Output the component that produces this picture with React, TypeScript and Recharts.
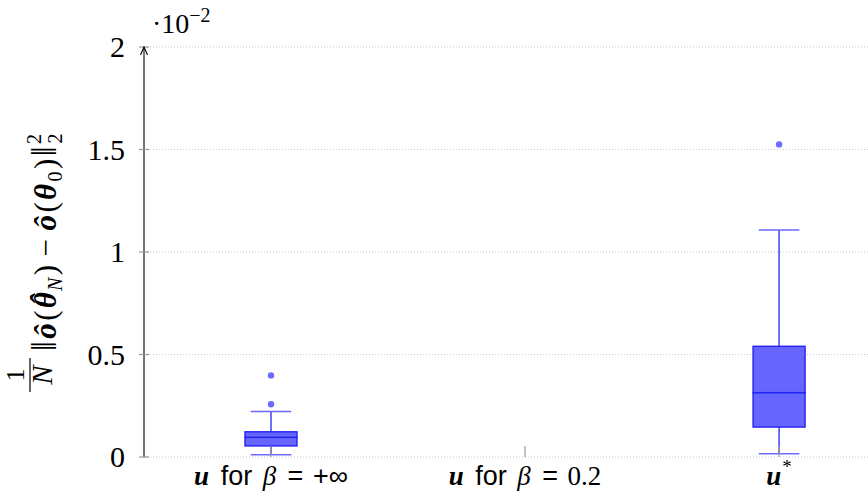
import React from "react";
import { ComposedChart, Bar, Scatter, XAxis, YAxis, CartesianGrid } from "recharts";

// box positions on the x axis and their labels
const positions = [1, 2, 3];
const betaLabels = ["+∞", "0.2", null];

// box statistics (values in units of 1e-2)
const lowerWhisker = [0.011, null, 0.016];
const lowerQuartile = [0.054, null, 0.146];
const medians = [0.096, null, 0.314];
const upperQuartile = [0.123, null, 0.54];
const upperWhisker = [0.222, null, 1.107];

// outliers
const outlierPositions = [1, 1, 3];
const outlierValues = [0.257, 0.398, 1.525];

const yTicks = [0, 0.5, 1, 1.5, 2];

const FILL = "#6666ff";
const EDGE = "#2424f0";
const CAP = "#6a6aff";
const SERIF = "'Liberation Serif', 'DejaVu Serif', serif";
const SANS = "'Liberation Sans', 'DejaVu Sans', sans-serif";

// stacked bars need the differences between successive statistics
const rows = positions.map((x, i) => {
  const lo = lowerWhisker[i];
  if (lo == null) return { x, base: null, w1: null, b1: null, b2: null, w2: null };
  return {
    x,
    base: lo,
    w1: lowerQuartile[i]! - lo,
    b1: medians[i]! - lowerQuartile[i]!,
    b2: upperQuartile[i]! - medians[i]!,
    w2: upperWhisker[i]! - upperQuartile[i]!,
  };
});

const outliers = outlierPositions.map((x, i) => ({ x, y: outlierValues[i] }));

const LowerWhisker = (p: any) => {
  const { x, y, width, height, payload } = p;
  if (payload.base == null || !height) return null;
  const cx = x + width / 2;
  const cap = width * 0.39;
  return (
    <g>
      <line x1={cx} x2={cx} y1={y} y2={y + height} stroke={EDGE} strokeWidth={1.3} />
      <line x1={cx - cap} x2={cx + cap} y1={y + height} y2={y + height} stroke={CAP} strokeWidth={1.6} />
    </g>
  );
};

const UpperWhisker = (p: any) => {
  const { x, y, width, height, payload } = p;
  if (payload.base == null || !height) return null;
  const cx = x + width / 2;
  const cap = width * 0.39;
  return (
    <g>
      <line x1={cx} x2={cx} y1={y} y2={y + height} stroke={EDGE} strokeWidth={1.3} />
      <line x1={cx - cap} x2={cx + cap} y1={y} y2={y} stroke={CAP} strokeWidth={1.6} />
    </g>
  );
};

const BoxPart = (p: any) => {
  const { x, y, width, height, payload } = p;
  if (payload.base == null || !height) return null;
  return <rect x={x} y={y} width={width} height={height} fill={FILL} stroke={EDGE} strokeWidth={1.4} />;
};

const Outlier = (p: any) => <circle cx={p.cx} cy={p.cy} r={3.2} fill="#6b6bff" />;

const fmtY = (v: number) => String(v);

const YTick = (p: any) => {
  const { x, y, payload } = p;
  return (
    <g>
      <line x1={x - 5} x2={x + 5} y1={y} y2={y} stroke="#9a9a9a" strokeWidth={1.2} />
      <text x={x - 19} y={y + 10} textAnchor="end" fontFamily={SERIF} fontSize={30} fill="#000">
        {fmtY(payload.value)}
      </text>
      {payload.value === 2 && (
        <>
          <path
            d={`M${x - 3.5} ${y + 8} C${x - 2} ${y + 4} ${x - 0.6} ${y + 1.5} ${x} ${y} C${x + 0.6} ${y + 1.5} ${x + 2} ${y + 4} ${x + 3.5} ${y + 8}`}
            stroke="#000"
            fill="none"
            strokeWidth={1.1}
          />
          <text x={x + 8} y={y - 14} fontFamily={SERIF} fontSize={28} fill="#000">
            ·10
            <tspan fontSize={20} dy={-11}>−2</tspan>
          </text>
        </>
      )}
    </g>
  );
};

const XTick = (p: any) => {
  const { x, y, payload } = p;
  const i = positions.indexOf(payload.value);
  const beta = betaLabels[i];
  return (
    <g>
      <line x1={x} x2={x} y1={y - 11} y2={y} stroke="#9a9a9a" strokeWidth={1.2} />
      <text x={x} y={y + 28} textAnchor="middle" fontSize={27} fill="#000">
        <tspan fontFamily={SERIF} fontWeight="bold" fontStyle="italic">u</tspan>
        {beta != null ? (
          <>
            <tspan fontFamily={SANS} dx={4}>{" for "}</tspan>
            <tspan fontFamily={SERIF} fontStyle="italic" dx={3}>β</tspan>
            <tspan fontFamily={SANS} dx={4}>{" = "}</tspan>
            <tspan fontFamily={beta === "0.2" ? SERIF : SANS} dx={2}>{beta}</tspan>
          </>
        ) : (
          <tspan fontFamily={SERIF} fontSize={19} dy={-12} dx={1}>*</tspan>
        )}
      </text>
    </g>
  );
};

const YLabel = (p: any) => {
  const vb = p.viewBox || { x: 0, y: 47, width: 144, height: 410 };
  const cx = vb.x + 56;
  const cy = vb.y + vb.height / 2;
  const m = { fontStyle: "italic", fontWeight: "bold" } as const;
  return (
    <g transform={`translate(${cx},${cy}) rotate(-90)`} fontFamily={SERIF} fontSize={31} fill="#000">
      <text x={-123} y={-32} textAnchor="middle" fontSize={26}>1</text>
      <line x1={-140} x2={-106} y1={-26} y2={-26} stroke="#000" strokeWidth={1.2} />
      <text x={-123} y={-4} textAnchor="middle" fontStyle="italic" fontSize={29}>N</text>
      <text x={-99} y={0} letterSpacing={2.4}>
        <tspan fontSize={35}>‖</tspan>
        <tspan {...m}>ô</tspan>
        <tspan>(</tspan>
        <tspan {...m}>θ</tspan>
        <tspan {...m} dx={-15} dy={-4}>ˆ</tspan>
        <tspan fontStyle="italic" fontSize={20} dx={1} dy={10}>N</tspan>
        <tspan dy={-6}>)</tspan>
        <tspan dx={6}>−</tspan>
        <tspan {...m} dx={6}>ô</tspan>
        <tspan>(</tspan>
        <tspan {...m}>θ</tspan>
        <tspan fontSize={20} dy={6}>0</tspan>
        <tspan dy={-6}>)</tspan>
        <tspan fontSize={35}>‖</tspan>
        <tspan fontSize={20} dy={-15}>2</tspan>
        <tspan fontSize={20} dx={-12} dy={21}>2</tspan>
      </text>
    </g>
  );
};

export default function App() {
  return (
    <div style={{ position: "absolute", left: 0, top: 0, width: 868, height: 492, background: "#fff" }}>
      <ComposedChart width={868} height={492} data={rows} margin={{ top: 47, right: 0, bottom: 0, left: 0 }}>
        <CartesianGrid horizontal vertical={false} stroke="#c8c8c8" strokeDasharray="1 2" />
        <XAxis
          type="number"
          dataKey="x"
          domain={[0.5, 3.35]}
          ticks={positions}
          allowDataOverflow
          interval={0}
          height={35}
          axisLine={false}
          tickLine={false}
          tickSize={0}
          tickMargin={0}
          tick={<XTick />}
        />
        <YAxis
          type="number"
          domain={[0, 2]}
          ticks={yTicks}
          interval={0}
          width={144}
          axisLine={{ stroke: "#000", strokeWidth: 1.1 }}
          tickLine={false}
          tickSize={0}
          tickMargin={0}
          tick={<YTick />}
          label={{ content: (lp: any) => <YLabel {...lp} /> }}
        />
        <Bar dataKey="base" stackId="box" barSize={52} fill="none" shape={() => null} isAnimationActive={false} />
        <Bar dataKey="w1" stackId="box" barSize={52} shape={<LowerWhisker />} isAnimationActive={false} />
        <Bar dataKey="b1" stackId="box" barSize={52} shape={<BoxPart />} isAnimationActive={false} />
        <Bar dataKey="b2" stackId="box" barSize={52} shape={<BoxPart />} isAnimationActive={false} />
        <Bar dataKey="w2" stackId="box" barSize={52} shape={<UpperWhisker />} isAnimationActive={false} />
        <Scatter data={outliers} dataKey="y" shape={<Outlier />} isAnimationActive={false} />
      </ComposedChart>
    </div>
  );
}
